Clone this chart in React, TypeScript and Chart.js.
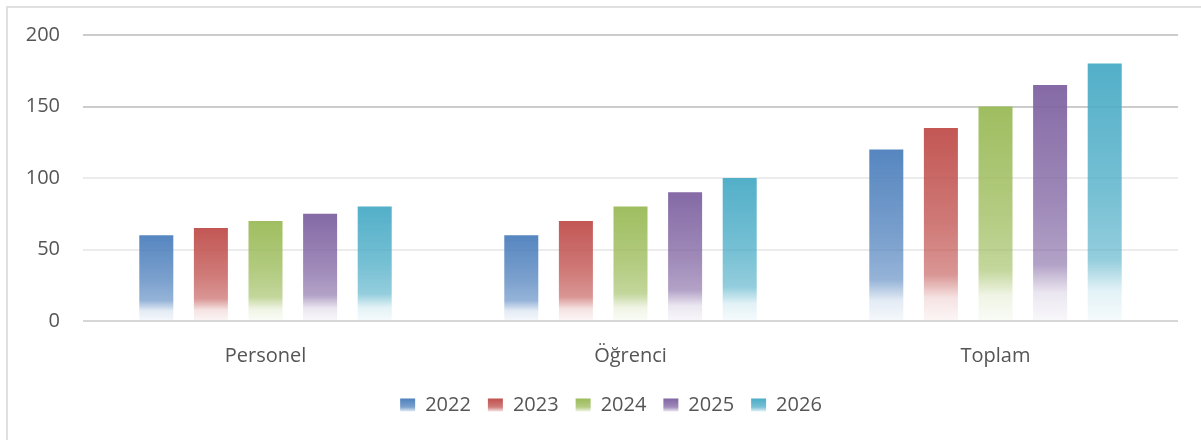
import React, { useEffect, useRef } from "react";
import { Chart, registerables } from "chart.js";

Chart.register(...registerables);

const categories = ["Personel", "Öğrenci", "Toplam"];
const seriesLabels = ["2022", "2023", "2024", "2025", "2026"];
const values2022 = [60, 60, 120];
const values2023 = [65, 70, 135];
const values2024 = [70, 80, 150];
const values2025 = [75, 90, 165];
const values2026 = [80, 100, 180];
const seriesValues = [values2022, values2023, values2024, values2025, values2026];
const seriesColors = ["#4F81BD", "#C0504D", "#9BBB59", "#8064A2", "#4BACC6"];
const yMin = 0;
const yMax = 200;
const yStep = 50;

const FONT = "'Open Sans', 'Noto Sans', sans-serif";
const TEXT = "#555555";

function rgba(hex: string, a: number) {
  const n = parseInt(hex.slice(1), 16);
  return `rgba(${(n >> 16) & 255},${(n >> 8) & 255},${n & 255},${a})`;
}

function barGradient(ctx: any, color: string) {
  const chart = ctx.chart;
  const y = chart.scales && chart.scales.y;
  if (!y || ctx.type !== "data" || typeof ctx.raw !== "number") return color;
  const top = y.getPixelForValue(ctx.raw);
  const bottom = y.getPixelForValue(0);
  if (!isFinite(top) || !isFinite(bottom) || bottom - top < 1) return color;
  const g = chart.ctx.createLinearGradient(0, top, 0, bottom);
  g.addColorStop(0, rgba(color, 0.96));
  g.addColorStop(0.5, rgba(color, 0.76));
  g.addColorStop(0.76, rgba(color, 0.6));
  g.addColorStop(0.88, rgba(color, 0.16));
  g.addColorStop(1, rgba(color, 0.05));
  return g;
}

const legendPlugin = {
  id: "legendTweaks",
  afterLayout(chart: any) {
    const legend = chart.legend;
    if (!legend) return;
    legend.left += 22;
    legend.right += 22;
  },
  beforeDraw(chart: any) {
    const legend = chart.legend;
    if (!legend || !legend.legendItems || !legend.legendHitBoxes) return;
    legend.legendItems.forEach((item: any, i: number) => {
      const hb = legend.legendHitBoxes[i];
      if (!hb) return;
      const color = seriesColors[item.datasetIndex ?? i];
      const top = hb.top + (hb.height - 13) / 2;
      const g = chart.ctx.createLinearGradient(0, top, 0, top + 13);
      g.addColorStop(0, rgba(color, 1));
      g.addColorStop(0.65, rgba(color, 0.75));
      g.addColorStop(1, rgba(color, 0.15));
      item.fillStyle = g;
    });
  },
};

export default function App() {
  const ref = useRef<HTMLCanvasElement | null>(null);

  useEffect(() => {
    if (!ref.current) return;
    const chart = new Chart(ref.current, {
      type: "bar",
      data: {
        labels: categories,
        datasets: seriesLabels.map((label, i) => ({
          label,
          data: seriesValues[i],
          backgroundColor: (c: any) => barGradient(c, seriesColors[i]),
          borderWidth: 0,
          barPercentage: 0.623,
          categoryPercentage: 0.748,
        })),
      },
      options: {
        responsive: false,
        animation: false,
        devicePixelRatio: 1,
        layout: { padding: { left: 0, right: 23, top: 35, bottom: 15 } },
        plugins: {
          tooltip: { enabled: false },
          legend: {
            position: "bottom",
            labels: {
              boxWidth: 15,
              boxHeight: 13,
              padding: 17,
              color: TEXT,
              font: { family: FONT, size: 20 },
              generateLabels: (ch: any) =>
                ch.data.datasets.map((ds: any, i: number) => ({
                  text: ds.label,
                  fillStyle: seriesColors[i],
                  strokeStyle: "rgba(0,0,0,0)",
                  lineWidth: 0,
                  hidden: false,
                  datasetIndex: i,
                  fontColor: TEXT,
                })),
            },
          },
        },
        scales: {
          x: {
            grid: { display: false },
            border: { display: false },
            ticks: {
              color: TEXT,
              font: { family: FONT, size: 20 },
              padding: 15,
            },
            afterFit: (s: any) => {
              s.height = 57;
            },
          },
          y: {
            min: yMin,
            max: yMax,
            border: { display: false },
            grid: {
              drawTicks: false,
              lineWidth: 2,
              color: (c: any) => {
                const v = c.tick ? c.tick.value : 0;
                if (v === 0) return "#d6d6d6";
                if (v >= 150) return "#cccccc";
                return "#ececec";
              },
            },
            ticks: {
              stepSize: yStep,
              color: TEXT,
              font: { family: FONT, size: 20 },
              padding: 23,
            },
            afterFit: (s: any) => {
              s.width = 83;
            },
          },
        },
      },
      plugins: [legendPlugin],
    });
    return () => chart.destroy();
  }, []);

  return (
    <div
      style={{
        position: "fixed",
        left: 0,
        top: 0,
        width: 1201,
        height: 440,
        background: "#ffffff",
        overflow: "hidden",
      }}
    >
      <div
        style={{
          position: "absolute",
          left: 6,
          top: 6,
          width: 1230,
          height: 470,
          borderLeft: "2px solid #e0e0e0",
          borderTop: "2px solid #e0e0e0",
        }}
      />
      <canvas
        ref={ref}
        width={1201}
        height={440}
        style={{ position: "absolute", left: 0, top: 0, width: 1201, height: 440 }}
      />
    </div>
  );
}
